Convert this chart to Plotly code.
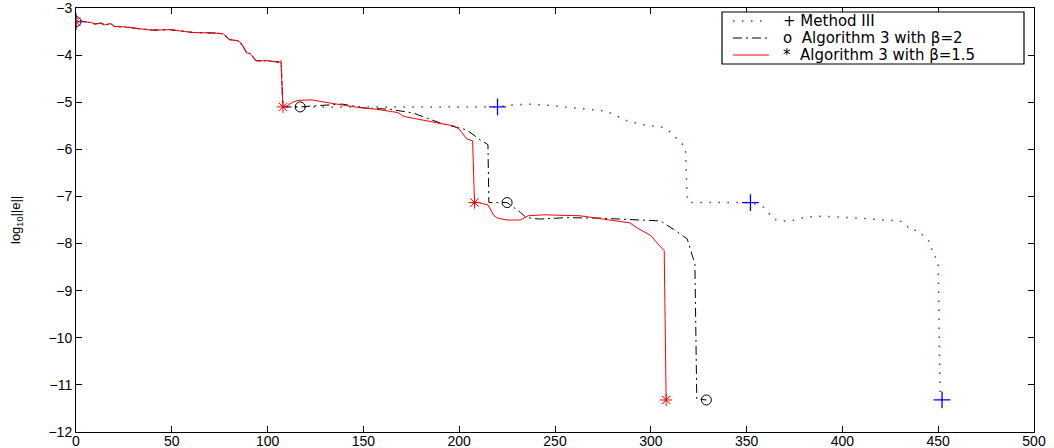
import plotly.graph_objects as go

# Shared first stage (all three methods coincide until x≈107)
stage1_x = [0, 3, 6, 8, 10, 13, 15, 18, 20, 25, 33, 40, 49, 54, 61, 72, 77, 80, 85, 87, 89, 91, 94, 100, 106, 107]
stage1_y = [-3.29, -3.28, -3.30, -3.31, -3.34, -3.32, -3.36, -3.33, -3.39, -3.40, -3.44, -3.47, -3.46, -3.48,
            -3.52, -3.53, -3.55, -3.67, -3.70, -3.80, -3.95, -3.97, -4.12, -4.12, -4.15, -4.12]

# Algorithm 3 with beta = 1.5 (red)
red_x = [108, 110, 113, 116, 123, 130, 138, 147, 157, 168, 171, 178, 190, 197, 200, 204, 207,
         208, 209, 212, 215, 218, 220, 225, 232, 236, 244, 263, 280, 289, 293, 300, 304, 307, 308]
red_y = [-5.10, -5.08, -5.00, -4.96, -4.95, -5.00, -5.05, -5.11, -5.15, -5.22, -5.30, -5.36, -5.45, -5.50, -5.57, -5.78, -5.82,
         -7.13, -7.12, -7.15, -7.18, -7.40, -7.46, -7.50, -7.50, -7.41, -7.39, -7.41, -7.50, -7.56, -7.67, -7.83, -8.02, -8.15, -11.32]

# Algorithm 3 with beta = 2 (black)
black_x = [108, 113, 117, 123, 129, 139, 150, 164, 176, 190, 204, 211, 215, 215.5, 220, 225, 232, 235, 242,
           256, 273, 291, 305, 312, 319, 322, 323, 324, 329]
black_y = [-5.10, -5.10, -5.10, -5.08, -5.06, -5.04, -5.12, -5.15, -5.23, -5.44, -5.59, -5.80, -5.90, -7.13, -7.13, -7.13,
           -7.34, -7.45, -7.48, -7.45, -7.46, -7.50, -7.52, -7.70, -7.90, -8.30, -8.40, -11.30, -11.32]

# Method III (blue)
blue_x = [108, 150, 200, 220, 228, 235, 245, 255, 265, 277, 280, 288, 296, 306, 309, 314, 318, 319, 320, 335, 352,
          359, 364, 368, 373, 381, 390, 400, 414, 425, 430, 433, 435, 440, 442, 446, 447, 449, 450, 451, 452]
blue_y = [-5.10, -5.10, -5.10, -5.10, -5.06, -5.04, -5.06, -5.10, -5.14, -5.19, -5.25, -5.40, -5.48, -5.53, -5.59, -5.78,
          -5.95, -7.00, -7.13, -7.13, -7.13, -7.23, -7.48, -7.52, -7.52, -7.44, -7.42, -7.44, -7.48, -7.52, -7.52, -7.58,
          -7.70, -7.73, -7.83, -7.98, -8.22, -8.31, -8.44, -11.25, -11.32]

# Restart markers
red_mk_x = [0, 108, 208, 308]
red_mk_y = [-3.29, -5.10, -7.13, -11.32]
black_mk_x = [0, 117, 225, 329]
black_mk_y = [-3.29, -5.10, -7.13, -11.32]
blue_mk_x = [0, 220, 352, 452]
blue_mk_y = [-3.29, -5.10, -7.13, -11.32]

legend_names = ["+ Method III", "o\u00a0 Algorithm 3 with β=2", "*\u00a0 Algorithm 3 with β=1.5"]

FONT = "Liberation Sans, Arial, Helvetica, sans-serif"
W, H = 1054, 448
ML, MR, MT, MB = 76, 20, 8, 16
pw = W - ML - MR
ph = H - MT - MB

BLUE_LINE = dict(color="#3333ff", width=1.5, dash="1.5px,7.5px")
BLACK_LINE = dict(color="black", width=1, dash="9px,4px,2px,4px")
RED_LINE = dict(color="#ff0000", width=1)

fig = go.Figure()

fig.add_trace(go.Scatter(x=stage1_x + blue_x, y=stage1_y + blue_y, mode="lines", name=legend_names[0],
                         line=BLUE_LINE))
fig.add_trace(go.Scatter(x=stage1_x + black_x, y=stage1_y + black_y, mode="lines", name=legend_names[1],
                         line=BLACK_LINE))
fig.add_trace(go.Scatter(x=stage1_x + red_x, y=stage1_y + red_y, mode="lines", name=legend_names[2],
                         line=RED_LINE))

fig.add_trace(go.Scatter(x=blue_mk_x, y=blue_mk_y, mode="markers", showlegend=False,
                         marker=dict(symbol="cross-thin-open", size=12, color="#0000ff",
                                     line=dict(color="#0000ff", width=1.3))))
fig.add_trace(go.Scatter(x=black_mk_x, y=black_mk_y, mode="markers", showlegend=False,
                         marker=dict(symbol="circle-open", size=10, color="black",
                                     line=dict(color="black", width=1))))
fig.add_trace(go.Scatter(x=red_mk_x, y=red_mk_y, mode="markers", showlegend=False,
                         marker=dict(symbol="asterisk-open", size=10, color="#ff0000",
                                     line=dict(color="#ff0000", width=1))))

axis_common = dict(showline=True, linecolor="black", linewidth=1, mirror="ticks", ticks="inside",
                   ticklen=6, tickcolor="black", showgrid=False, zeroline=False, automargin=False,
                   ticklabeloverflow="allow")

fig.update_xaxes(range=[0, 500], dtick=50, tick0=0, ticklabelstandoff=-4,
                 tickfont=dict(family=FONT, size=14, color="black"), **axis_common)
fig.update_yaxes(range=[-12, -3], dtick=1, tick0=-12,
                 tickfont=dict(family=FONT, size=14, color="black"), **axis_common)

fig.add_annotation(text="log<sub>10</sub>||e||", xref="paper", yref="paper",
                   x=(16 - ML) / pw, y=0.5, xanchor="center", yanchor="middle",
                   textangle=-90, showarrow=False, font=dict(family=FONT, size=13, color="black"))


# MATLAB-style legend box (drawn in paper coordinates)
def px_x(p):
    return (p - ML) / pw


def px_y(p):
    return 1 - (p - MT) / ph


fig.add_shape(type="rect", xref="paper", yref="paper", x0=px_x(722), x1=px_x(1024), y0=px_y(64), y1=px_y(12),
              line=dict(color="black", width=1.2), fillcolor="white", layer="above")
row_y = [21, 38, 55]
line_styles = [BLUE_LINE, BLACK_LINE, RED_LINE]
for name, ry, ls in zip(legend_names, row_y, line_styles):
    fig.add_shape(type="line", xref="paper", yref="paper", x0=px_x(733), x1=px_x(769), y0=px_y(ry), y1=px_y(ry),
                  line=ls, layer="above")
    fig.add_annotation(text=name, xref="paper", yref="paper", x=px_x(782), y=px_y(ry),
                       xanchor="left", yanchor="middle", showarrow=False, borderpad=0,
                       font=dict(family="DejaVu Sans, sans-serif", size=15, color="black"))

fig.update_layout(
    width=W, height=H,
    margin=dict(l=ML, r=MR, t=MT, b=MB, autoexpand=False),
    plot_bgcolor="white", paper_bgcolor="white",
    font=dict(family=FONT, size=15, color="black"),
    showlegend=False,
)

fig.write_html("out.html", config={"displayModeBar": False},
               post_script="document.body.style.margin='0px';document.body.style.padding='0px';")
